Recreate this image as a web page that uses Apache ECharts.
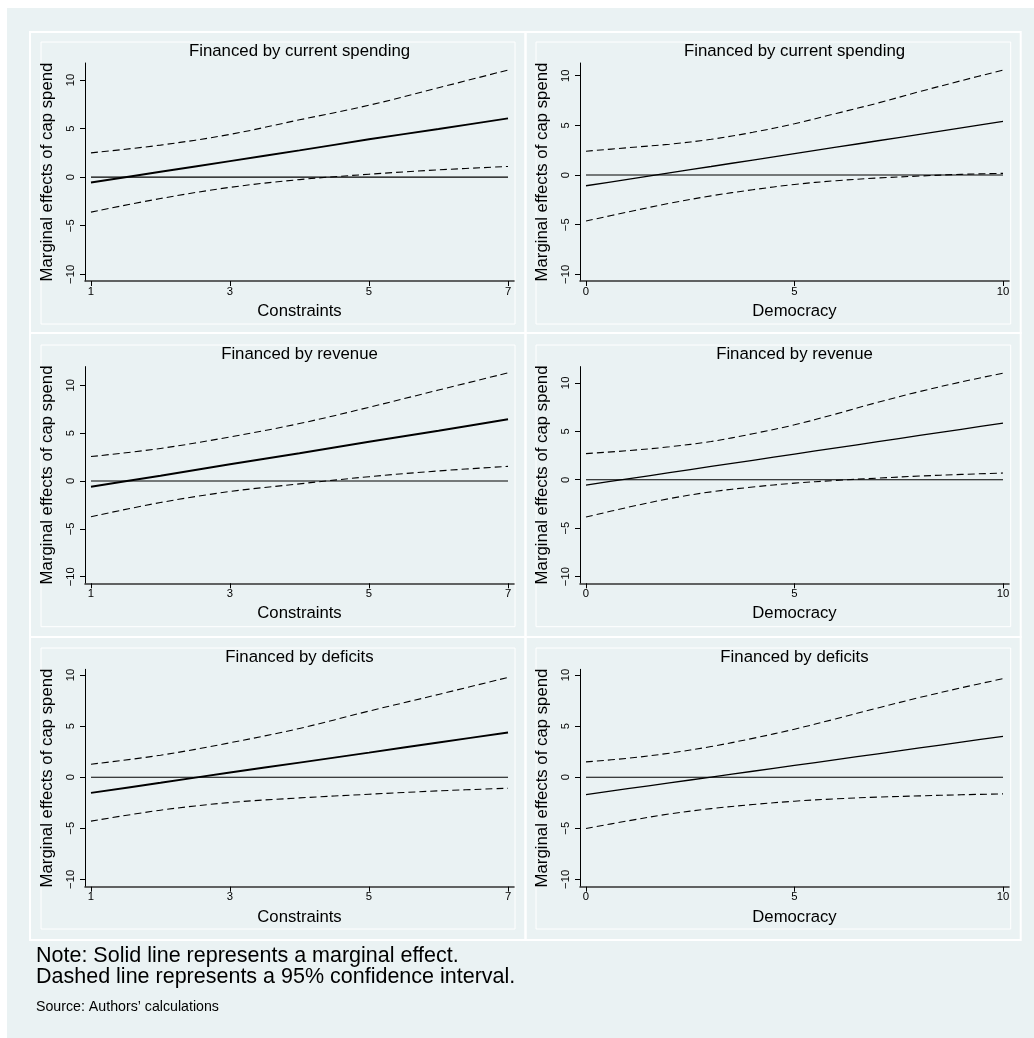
<!DOCTYPE html>
<html>
<head>
<meta charset="utf-8">
<script src="https://cdn.jsdelivr.net/npm/echarts@6/dist/echarts.min.js"></script>
<style>
html,body{margin:0;padding:0;background:#ffffff;}
#chart{width:1034px;height:1038px;}
</style>
</head>
<body>
<div id="chart"></div>
<script>
// ---- Data ----
const constraintsX = [1, 2, 3, 4, 5, 6, 7];
const democracyX = [0, 1, 2, 3, 4, 5, 6, 7, 8, 9, 10];

const xTicksConstraints = [1, 3, 5, 7];
const xTicksDemocracy = [0, 5, 10];
const yTicks = [-10, -5, 0, 5, 10];

const panelTitles = [
  'Financed by current spending', 'Financed by current spending',
  'Financed by revenue', 'Financed by revenue',
  'Financed by deficits', 'Financed by deficits'
];
const xNames = ['Constraints', 'Democracy', 'Constraints', 'Democracy', 'Constraints', 'Democracy'];
const yName = 'Marginal effects of cap spend';

// Panel 1: current spending vs constraints
const curConEffect = [-0.55, 0.55, 1.65, 2.75, 3.9, 4.95, 6.05];
const curConUpper  = [2.5, 3.3, 4.4, 5.9, 7.4, 9.2, 11.03];
const curConLower  = [-3.6, -2.2, -1.05, -0.25, 0.3, 0.75, 1.1];
// Panel 2: current spending vs democracy
const curDemEffect = [-1.08, -0.43, 0.22, 0.86, 1.51, 2.15, 2.8, 3.45, 4.1, 4.75, 5.4];
const curDemUpper  = [2.4, 2.75, 3.1, 3.6, 4.3, 5.17, 6.2, 7.25, 8.4, 9.5, 10.57];
const curDemLower  = [-4.63, -3.72, -2.85, -2.1, -1.48, -0.95, -0.57, -0.3, -0.1, 0.07, 0.17];
// Panel 3: revenue vs constraints
const revConEffect = [-0.6, 0.55, 1.75, 2.9, 4.1, 5.25, 6.45];
const revConUpper  = [2.55, 3.4, 4.6, 6.0, 7.7, 9.5, 11.3];
const revConLower  = [-3.73, -2.25, -1.1, -0.3, 0.45, 1.05, 1.53];
// Panel 4: revenue vs democracy
const revDemEffect = [-0.55, 0.09, 0.73, 1.37, 2.01, 2.65, 3.29, 3.93, 4.57, 5.21, 5.85];
const revDemUpper  = [2.7, 3.0, 3.4, 3.95, 4.75, 5.67, 6.8, 8.0, 9.1, 10.1, 11.0];
const revDemLower  = [-3.85, -2.85, -1.95, -1.25, -0.75, -0.35, -0.07, 0.17, 0.38, 0.55, 0.69];
// Panel 5: deficits vs constraints
const defConEffect = [-1.54, -0.55, 0.46, 1.43, 2.4, 3.4, 4.38];
const defConUpper  = [1.27, 2.15, 3.37, 4.77, 6.47, 8.1, 9.77];
const defConLower  = [-4.3, -3.23, -2.48, -2.03, -1.67, -1.34, -1.08];
// Panel 6: deficits vs democracy
const defDemEffect = [-1.7, -1.13, -0.56, 0.01, 0.58, 1.15, 1.72, 2.29, 2.86, 3.43, 4.0];
const defDemUpper  = [1.5, 1.85, 2.35, 3.0, 3.8, 4.7, 5.72, 6.78, 7.8, 8.75, 9.64];
const defDemLower  = [-5.03, -4.28, -3.6, -3.08, -2.68, -2.35, -2.12, -1.95, -1.83, -1.72, -1.63];

const panelX = [constraintsX, democracyX, constraintsX, democracyX, constraintsX, democracyX];
const panelEffect = [curConEffect, curDemEffect, revConEffect, revDemEffect, defConEffect, defDemEffect];
const panelUpper = [curConUpper, curDemUpper, revConUpper, revDemUpper, defConUpper, defDemUpper];
const panelLower = [curConLower, curDemLower, revConLower, revDemLower, defConLower, defDemLower];

// ---- Layout / style ----
const FONT = '"Liberation Sans", Arial, Helvetica, sans-serif';
const colLeft = [85, 580];
const plotW = 429;
const rowTop = [63, 366.6, 669.3];
const rowH = [218, 216.7, 217.4];
const yRanges = [[-10.69, 11.75], [-10.67, 11.28], [-10.69, 11.95], [-10.69, 11.68], [-10.72, 10.56], [-10.72, 10.56]];
const xRangeConstr = [0.914, 7.086];
const xRangeDemo = [-0.144, 10.144];

const grids = [], xAxes = [], yAxes = [], series = [], graphics = [];

graphics.push({type:'rect', z:-100, shape:{x:7, y:8, width:1027, height:1030}, style:{fill:'#eaf2f3'}, silent:true});
const cellX = [30, 525.5], cellW = [495.5, 495.2];
const cellY = [32, 333, 637], cellH = [301, 304, 303];
const boxX = [41, 536], boxW = [474, 474.7];
const boxY = [42, 345, 648], boxH = [282, 281.7, 281];
for (let r = 0; r < 3; r++) {
  for (let c = 0; c < 2; c++) {
    graphics.push({type:'rect', z:-90, shape:{x:cellX[c], y:cellY[r], width:cellW[c], height:cellH[r]}, style:{fill:null, stroke:'#ffffff', lineWidth:2}, silent:true});
    graphics.push({type:'rect', z:-80, shape:{x:boxX[c], y:boxY[r], width:boxW[c], height:boxH[r]}, style:{fill:null, stroke:'#ffffff', lineWidth:1}, silent:true});
  }
}

const minusFmt = v => (v < 0 ? '\u2212' + Math.abs(v) : String(v));

for (let i = 0; i < 6; i++) {
  const r = Math.floor(i / 2), c = i % 2;
  const isConstr = c === 0;
  grids.push({left: colLeft[c], top: rowTop[r], width: plotW, height: rowH[r], outerBoundsMode: 'none', containLabel: false});
  const xr = isConstr ? xRangeConstr : xRangeDemo;
  const xt = isConstr ? xTicksConstraints : xTicksDemocracy;
  xAxes.push({
    type: 'value', gridIndex: i, min: xr[0], max: xr[1],
    name: xNames[i], nameLocation: 'middle', nameGap: 22,
    nameTextStyle: {fontFamily: FONT, fontSize: 16.7, color: '#000'},
    axisLine: {show: true, onZero: false, lineStyle: {color: '#333', width: 1.6}},
    axisTick: {show: true, length: 5, customValues: xt, lineStyle: {color: '#000', width: 1}},
    axisLabel: {show: true, customValues: xt, margin: 5, fontFamily: FONT, fontSize: 11.3, color: '#000'},
    splitLine: {show: false}
  });
  yAxes.push({
    type: 'value', gridIndex: i, min: yRanges[i][0], max: yRanges[i][1],
    name: yName, nameLocation: 'middle', nameGap: 29,
    nameTextStyle: {fontFamily: FONT, fontSize: 16.8, color: '#000'},
    axisLine: {show: true, onZero: false, lineStyle: {color: '#000', width: 1}},
    axisTick: {show: true, length: 5, customValues: yTicks, lineStyle: {color: '#000', width: 1}},
    axisLabel: {show: true, customValues: yTicks, rotate: 90, margin: 9, fontFamily: FONT, fontSize: 11.3, color: '#000', formatter: minusFmt},
    splitLine: {show: false}
  });
  const xs = panelX[i];
  const zeroData = [[xs[0], 0], [xs[xs.length - 1], 0]];
  series.push({type: 'line', xAxisIndex: i, yAxisIndex: i, data: zeroData, symbol: 'none', silent: true,
    lineStyle: {color: '#000', width: 1.1}, z: 2});
  series.push({type: 'line', xAxisIndex: i, yAxisIndex: i, data: xs.map((x, k) => [x, panelEffect[i][k]]), symbol: 'none',
    smooth: 0.25, lineStyle: {color: '#000', width: isConstr ? 1.9 : 1.3}, z: 3});
  series.push({type: 'line', xAxisIndex: i, yAxisIndex: i, data: xs.map((x, k) => [x, panelUpper[i][k]]), symbol: 'none',
    smooth: 0.35, lineStyle: {color: '#000', width: 1.1, type: [7, 4]}, z: 3});
  series.push({type: 'line', xAxisIndex: i, yAxisIndex: i, data: xs.map((x, k) => [x, panelLower[i][k]]), symbol: 'none',
    smooth: 0.35, lineStyle: {color: '#000', width: 1.1, type: [7, 4]}, z: 3});
  graphics.push({type: 'text', x: colLeft[c] + plotW / 2, y: rowTop[r] - 12, z: 10,
    style: {text: panelTitles[i], font: '16.8px ' + FONT, fill: '#000', textAlign: 'center', textVerticalAlign: 'middle'}});
}

graphics.push({type: 'text', x: 36, y: 956, z: 10, style: {text: 'Note: Solid line represents a marginal effect.', font: '21.5px ' + FONT, fill: '#000', textAlign: 'left', textVerticalAlign: 'middle'}});
graphics.push({type: 'text', x: 36, y: 977.5, z: 10, style: {text: 'Dashed line represents a 95% confidence interval.', font: '21.5px ' + FONT, fill: '#000', textAlign: 'left', textVerticalAlign: 'middle'}});
graphics.push({type: 'text', x: 36, y: 1007, z: 10, style: {text: 'Source: Authors\u2019 calculations', font: '14.2px ' + FONT, fill: '#000', textAlign: 'left', textVerticalAlign: 'middle'}});

const chart = echarts.init(document.getElementById('chart'), null, {renderer: 'canvas'});
chart.setOption({
  animation: false,
  backgroundColor: '#ffffff',
  grid: grids,
  xAxis: xAxes,
  yAxis: yAxes,
  series: series,
  graphic: {elements: graphics}
});
</script>
</body>
</html>
